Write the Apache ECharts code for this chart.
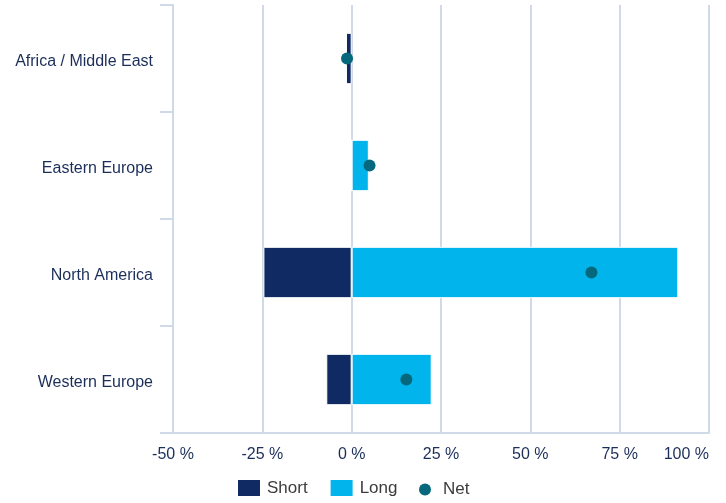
<!DOCTYPE html>
<html><head><meta charset="utf-8">
<script src="https://cdn.jsdelivr.net/npm/echarts@6/dist/echarts.min.js"></script>
<style>html,body{margin:0;padding:0;background:#fff}#c{width:726px;height:503px}</style>
</head><body><div id="c"></div>
<script>
const categories = ['Africa / Middle East', 'Eastern Europe', 'North America', 'Western Europe'];
const shortValues = [-1.6, 0, -24.7, -7.1];
const longValues = [0, 4.8, 91.4, 22.4];
const netValues = [-1.3, 5.0, 67.1, 15.3];
const xTicks = [-50, -25, 0, 25, 50, 75, 100];

const textColor = '#1b2e5a';
const gridColor = '#cfd9e8';
const font = 'Liberation Sans, Arial, Helvetica, sans-serif';
const chart = echarts.init(document.getElementById('c'), null, {renderer: 'canvas'});
chart.setOption({
  animation: false,
  textStyle: {fontFamily: font},
  grid: {left: 173, right: 17, top: 5, bottom: 70, containLabel: false},
  legend: [
    {
      left: 236, top: 478, padding: 0, itemGap: 21, itemWidth: 24, itemHeight: 18,
      textStyle: {color: '#3c3c3c', fontSize: 17, fontFamily: font, padding: [0, 0, 0, 1]},
      data: [{name: 'Short', icon: 'rect'}, {name: 'Long', icon: 'rect'}]
    },
    {
      left: 419, top: 481, padding: 0, itemWidth: 26, itemHeight: 12,
      textStyle: {color: '#3c3c3c', fontSize: 17, fontFamily: font},
      data: [{name: 'Net', icon: 'circle'}]
    }
  ],
  xAxis: {
    type: 'value', min: xTicks[0], max: xTicks[xTicks.length - 1], interval: 25,
    axisLine: {show: true, lineStyle: {color: gridColor, width: 2}},
    axisTick: {show: false},
    splitLine: {show: true, lineStyle: {color: gridColor, width: 2}},
    axisLabel: {color: textColor, fontSize: 16, margin: 14, alignMaxLabel: 'right',
                formatter: v => v + ' %'}
  },
  yAxis: {
    type: 'category', data: categories, inverse: true,
    axisLine: {show: true, onZero: false, lineStyle: {color: gridColor, width: 2}},
    axisTick: {show: true, length: 13, lineStyle: {color: gridColor, width: 2}},
    axisLabel: {color: textColor, fontSize: 16, margin: 20, verticalAlign: 'top',
                lineHeight: 16, padding: [-5, 0, 0, 0]}
  },
  series: [
    {name: 'Short', type: 'bar', stack: 'pos', data: shortValues, barWidth: '48%',
     itemStyle: {color: '#102b63', borderColor: '#fff', borderWidth: 1}},
    {name: 'Long', type: 'bar', stack: 'pos', data: longValues, barWidth: '48%',
     itemStyle: {color: '#02b4ec', borderColor: '#fff', borderWidth: 1}},
    {name: 'Net', type: 'scatter', data: netValues, symbolSize: 12, z: 5,
     itemStyle: {color: '#05687c', opacity: 1}}
  ]
});
</script></body></html>
